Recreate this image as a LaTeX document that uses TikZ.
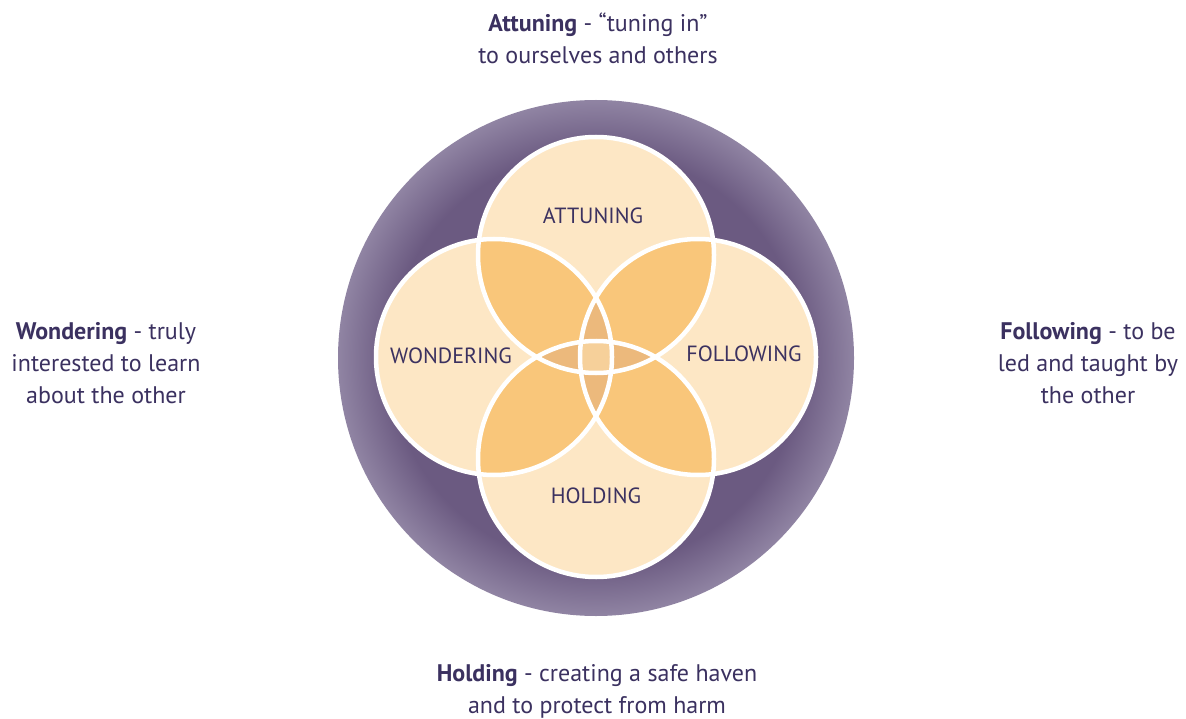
\documentclass[tikz,border=0pt]{standalone}
\usepackage{fontspec}
\setmainfont{PT Sans}
\definecolor{ink}{HTML}{3B3160}
\definecolor{ringdark}{HTML}{6B5A81}
\definecolor{ringlight}{HTML}{9084A3}
\definecolor{petal}{HTML}{FDE7C5}
\definecolor{pairfill}{HTML}{F9C67A}
\definecolor{triplefill}{HTML}{ECB97C}
\definecolor{quadfill}{HTML}{F6D09A}
\pgfdeclareradialshading{ringshade}{\pgfpoint{0bp}{0bp}}{color(0bp)=(ringdark);color(20bp)=(ringdark);color(25bp)=(ringlight);color(50bp)=(ringlight)}
\newcommand{\circR}{118}
\begin{document}
\begin{tikzpicture}[x=1pt,y=-1pt,
  caplabel/.style={text=ink,font=\fontsize{22}{24}\selectfont,inner sep=0pt},
  desc/.style={text=ink,align=center,font=\fontsize{24}{32}\selectfont,inner sep=0pt},
  ringline/.style={draw=white,line width=4.5pt}]
\useasboundingbox (0,0) rectangle (1186,719);
\fill[white] (0,0) rectangle (1186,719);

% outer shaded disc
\coordinate (O) at (596,358);
\shade[shading=ringshade] (O) circle[radius=258];

% centres of the four circles
\coordinate (T) at (596,255);
\coordinate (B) at (596,459);
\coordinate (L) at (494,357);
\coordinate (R) at (698,357);

% single regions
\foreach \c in {T,B,L,R} \fill[petal] (\c) circle[radius=\circR];

% pairwise overlaps
\foreach \a/\b in {T/L,T/R,B/L,B/R,T/B,L/R}{
  \begin{scope}
    \clip (\a) circle[radius=\circR];
    \fill[pairfill] (\b) circle[radius=\circR];
  \end{scope}}

% triple overlaps
\foreach \a/\b/\c in {T/L/R,B/L/R,T/B/L,T/B/R}{
  \begin{scope}
    \clip (\a) circle[radius=\circR];
    \clip (\b) circle[radius=\circR];
    \fill[triplefill] (\c) circle[radius=\circR];
  \end{scope}}

% common centre
\begin{scope}
  \clip (T) circle[radius=\circR];
  \clip (B) circle[radius=\circR];
  \clip (L) circle[radius=\circR];
  \fill[quadfill] (R) circle[radius=\circR];
\end{scope}

% white outlines
\foreach \c in {T,B,L,R} \draw[ringline] (\c) circle[radius=\circR];

% circle labels
\node[caplabel] (lt) at (593,216) {ATTUNING};
\node[caplabel] (ll) at (451,356) {WONDERING};
\node[caplabel] (lr) at (744,354) {FOLLOWING};
\node[caplabel] (lb) at (596,496) {HOLDING};

% descriptions
\node[desc] (dt) at (598,38) {\textbf{Attuning} - “tuning in”\\to ourselves and others};
\node[desc] (dl) at (106,363) {\textbf{Wondering} - truly\\interested to learn\\about the other};
\node[desc] (dr) at (1088,363) {\textbf{Following} - to be\\led and taught by\\the other};
\node[desc] (db) at (597,691) {\textbf{Holding} - creating a safe haven\\and to protect from harm};
\end{tikzpicture}
\end{document}
